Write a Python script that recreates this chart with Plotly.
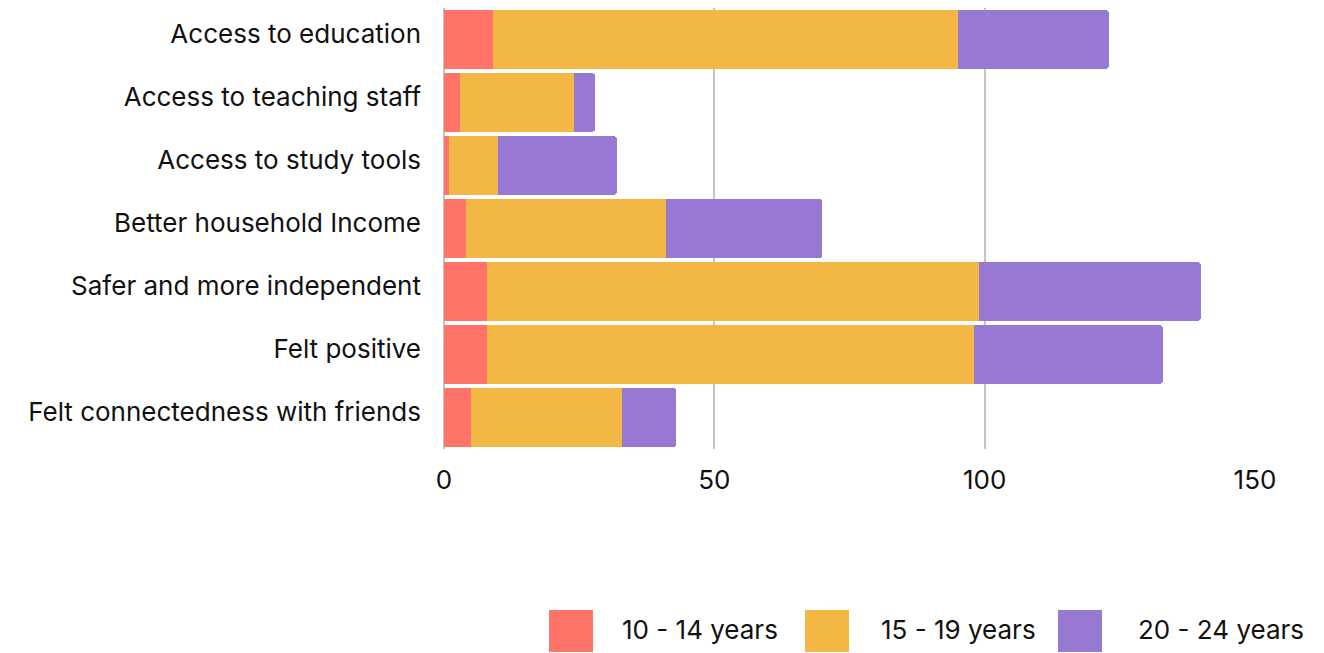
import plotly.graph_objects as go

categories = [
    "Access to education",
    "Access to teaching staff",
    "Access to study tools",
    "Better household Income",
    "Safer and more independent",
    "Felt positive",
    "Felt connectedness with friends",
]
age_10_14 = [9, 3, 1, 4, 8, 8, 5]
age_15_19 = [86, 21, 9, 37, 91, 90, 28]
age_20_24 = [28, 4, 22, 29, 41, 35, 10]

series_names = ["10 - 14 years", "15 - 19 years", "20 - 24 years"]
series_colors = ["#FF7369", "#F2B744", "#9779D3"]
x_ticks = [0, 50, 100, 150]

W, H = 1324, 653
M_L, M_R, M_T, M_B = 444, 69, 8, 204
PW, PH = W - M_L - M_R, H - M_T - M_B

FONT = "Inter, Lato, sans-serif"
FS = 26

fig = go.Figure()
for name, vals, col in zip(series_names, [age_10_14, age_15_19, age_20_24], series_colors):
    fig.add_trace(go.Bar(
        y=categories, x=vals, name=name, orientation="h",
        marker=dict(color=col, line=dict(width=0)),
        showlegend=False,
    ))


def px_x(px):
    return (px - M_L) / PW


def px_y(py):
    return (H - M_B - py) / PH


# Legend drawn as large colour swatches with labels beneath the plot
legend_items = [(549, 620), (805, 879), (1058, 1136)]
shapes, annotations = [], []
for (sq_x, tx_x), name, col in zip(legend_items, series_names, series_colors):
    shapes.append(dict(
        type="rect", xref="paper", yref="paper",
        x0=px_x(sq_x), x1=px_x(sq_x + 44), y0=px_y(652), y1=px_y(610),
        fillcolor=col, line=dict(width=0),
    ))
    annotations.append(dict(
        xref="paper", yref="paper", x=px_x(tx_x), y=px_y(629),
        xanchor="left", yanchor="middle", text=name, showarrow=False,
        font=dict(family=FONT, size=FS, color="#111111"),
    ))

fig.update_layout(
    width=W, height=H,
    margin=dict(l=M_L, r=M_R, t=M_T, b=M_B, pad=0),
    barmode="stack",
    bargap=0.065,
    barcornerradius=4,
    plot_bgcolor="white",
    paper_bgcolor="white",
    font=dict(family=FONT, size=FS, color="#111111"),
    shapes=shapes,
    annotations=annotations,
    xaxis=dict(
        range=[0, 150], tickvals=x_ticks, showgrid=True,
        gridcolor="#C4C4C4", gridwidth=1.5,
        zeroline=True, zerolinecolor="#C4C4C4", zerolinewidth=1.5,
        showline=False, ticks="", ticklabelstandoff=13,
        tickfont=dict(family=FONT, size=FS, color="#111111"),
    ),
    yaxis=dict(
        autorange="reversed", showgrid=False, zeroline=False,
        showline=False, ticks="", ticklabelstandoff=22,
        ticklabelshift=6,
        tickfont=dict(family=FONT, size=FS, color="#111111"),
    ),
)

fig.write_html("out.html")
